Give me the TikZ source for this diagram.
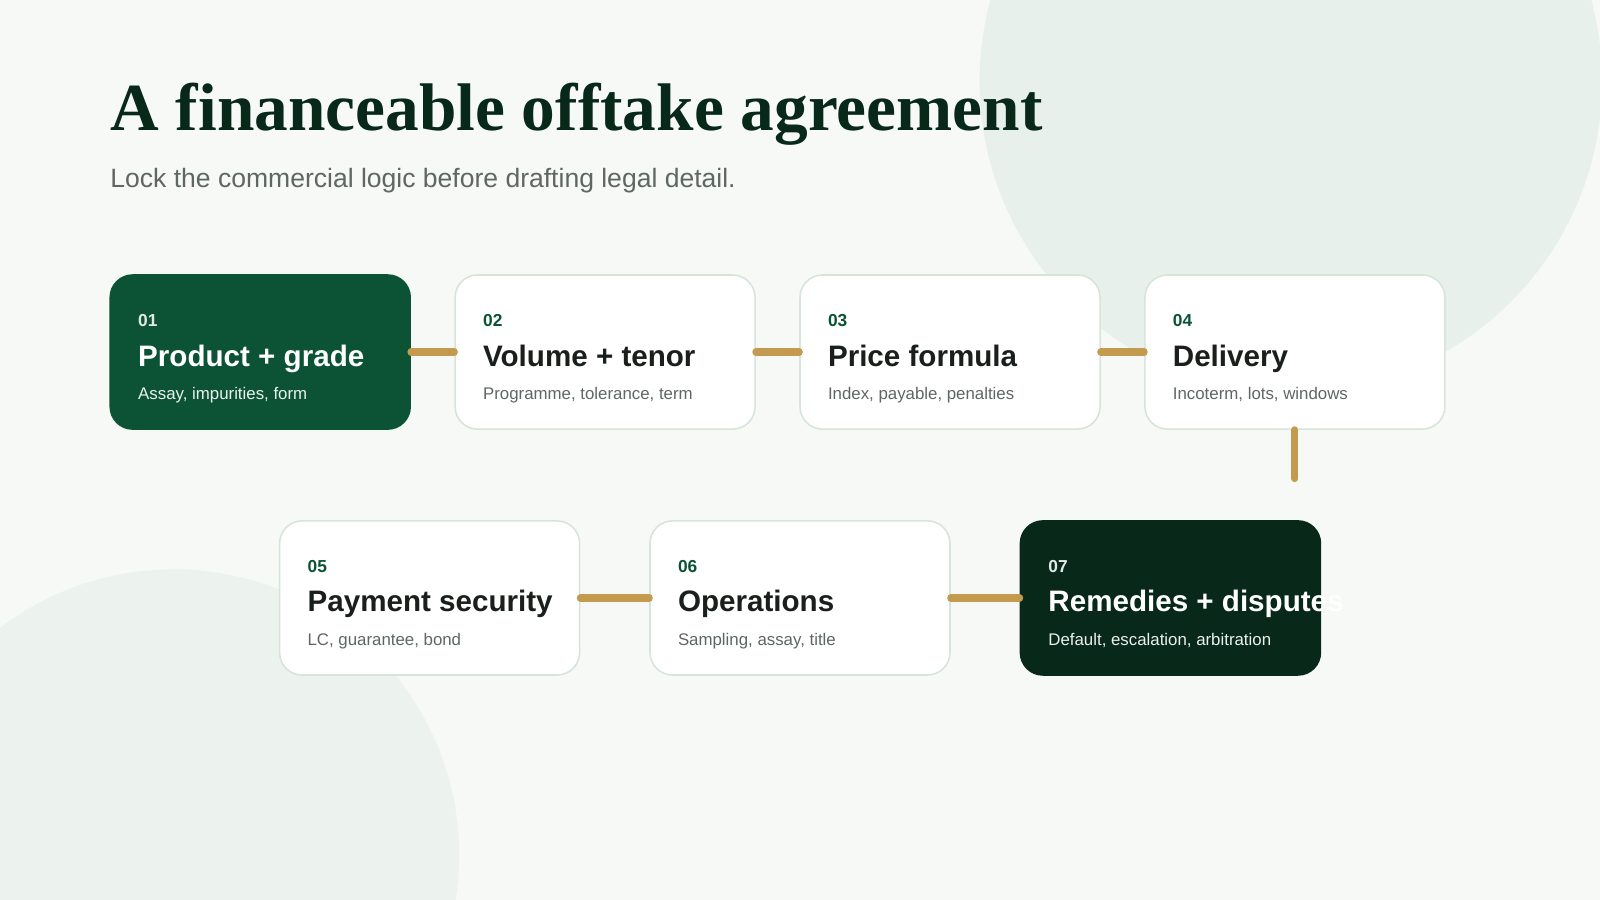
\documentclass[tikz,border=0pt]{standalone}
\usepackage{fontspec}
\setmainfont{Liberation Sans}
\newfontfamily\titlefont{Liberation Serif}
\usetikzlibrary{positioning, calc}
\definecolor{bgpale}{HTML}{F6F9F6}
\definecolor{blob}{HTML}{E7F0EA}
\definecolor{forest}{HTML}{0B5334}
\definecolor{deepgreen}{HTML}{082819}
\definecolor{gold}{HTML}{C49A4F}
\definecolor{edge}{HTML}{D6E4DA}
\definecolor{ink}{HTML}{1A1F1C}
\definecolor{muted}{HTML}{5F6763}
\tikzset{
  card/.style={draw=edge, line width=1.5pt, fill=white, rectangle, rounded corners=22pt, minimum width=294pt, minimum height=151pt, inner sep=0pt},
  carddark/.style={card, draw=#1, fill=#1},
  num/.style={anchor=base west, inner sep=0pt, font=\fontsize{17}{20}\selectfont\bfseries, text=forest},
  head/.style={anchor=base west, inner sep=0pt, font=\fontsize{29}{34}\selectfont\bfseries, text=ink},
  note/.style={anchor=base west, inner sep=0pt, font=\fontsize{16.5}{20}\selectfont, text=muted},
  link/.style={gold, line width=7pt, line cap=round}
}
\begin{document}
\begin{tikzpicture}[x=1pt, y=-1pt]
  \fill[bgpale] (0,0) rectangle (1568,882);
  \useasboundingbox (0,0) rectangle (1568,882);
  \begin{scope}
    \clip (0,0) rectangle (1568,882);
    \fill[blob] (1265,80) circle (305);
    \fill[blob!70!bgpale] (170,838) circle (280);
  \end{scope}
  % heading
  \node[anchor=base west, inner sep=0pt, font=\titlefont\fontsize{66}{70}\selectfont\bfseries, text=deepgreen] (title) at (108,128) {A financeable offtake agreement};
  \node[anchor=base west, inner sep=0pt, font=\fontsize{26}{30}\selectfont, text=muted] (subtitle) at (108,184) {Lock the commercial logic before drafting legal detail.};
  % cards
  \node[carddark=forest] (s1) at (255,345) {};
  \node[card] (s2) at (593,345) {};
  \node[card] (s3) at (931,345) {};
  \node[card] (s4) at (1269,345) {};
  \node[card] (s5) at (421,586) {};
  \node[card] (s6) at (784,586) {};
  \node[carddark=deepgreen] (s7) at (1147,586) {};
  % connectors
  \draw[link] (s1.east) -- (s2.west);
  \draw[link] (s2.east) -- (s3.west);
  \draw[link] (s3.east) -- (s4.west);
  \coordinate (drop) at (1269,469);
  \draw[link] (s4.south) -- (drop);
  \draw[link] (s5.east) -- (s6.west);
  \draw[link] (s6.east) -- (s7.west);
  % labels
  \foreach \s/\n/\h/\t in {s2/02/Volume + tenor/{Programme, tolerance, term},
                           s3/03/Price formula/{Index, payable, penalties},
                           s4/04/Delivery/{Incoterm, lots, windows},
                           s5/05/Payment security/{LC, guarantee, bond},
                           s6/06/Operations/{Sampling, assay, title}} {
    \node[num] (\s-num) at ($(\s.north west)+(28,51)$) {\n};
    \node[head] (\s-head) at ($(\s.north west)+(28,90)$) {\h};
    \node[note] (\s-note) at ($(\s.north west)+(28,123)$) {\t};
  }
  \foreach \s/\n/\h/\t in {s1/01/Product + grade/{Assay, impurities, form},
                           s7/07/Remedies + disputes/{Default, escalation, arbitration}} {
    \node[num, text=white!88!forest] (\s-num) at ($(\s.north west)+(28,51)$) {\n};
    \node[head, text=white] (\s-head) at ($(\s.north west)+(28,90)$) {\h};
    \node[note, text=white!92!forest] (\s-note) at ($(\s.north west)+(28,123)$) {\t};
  }
\end{tikzpicture}
\end{document}
